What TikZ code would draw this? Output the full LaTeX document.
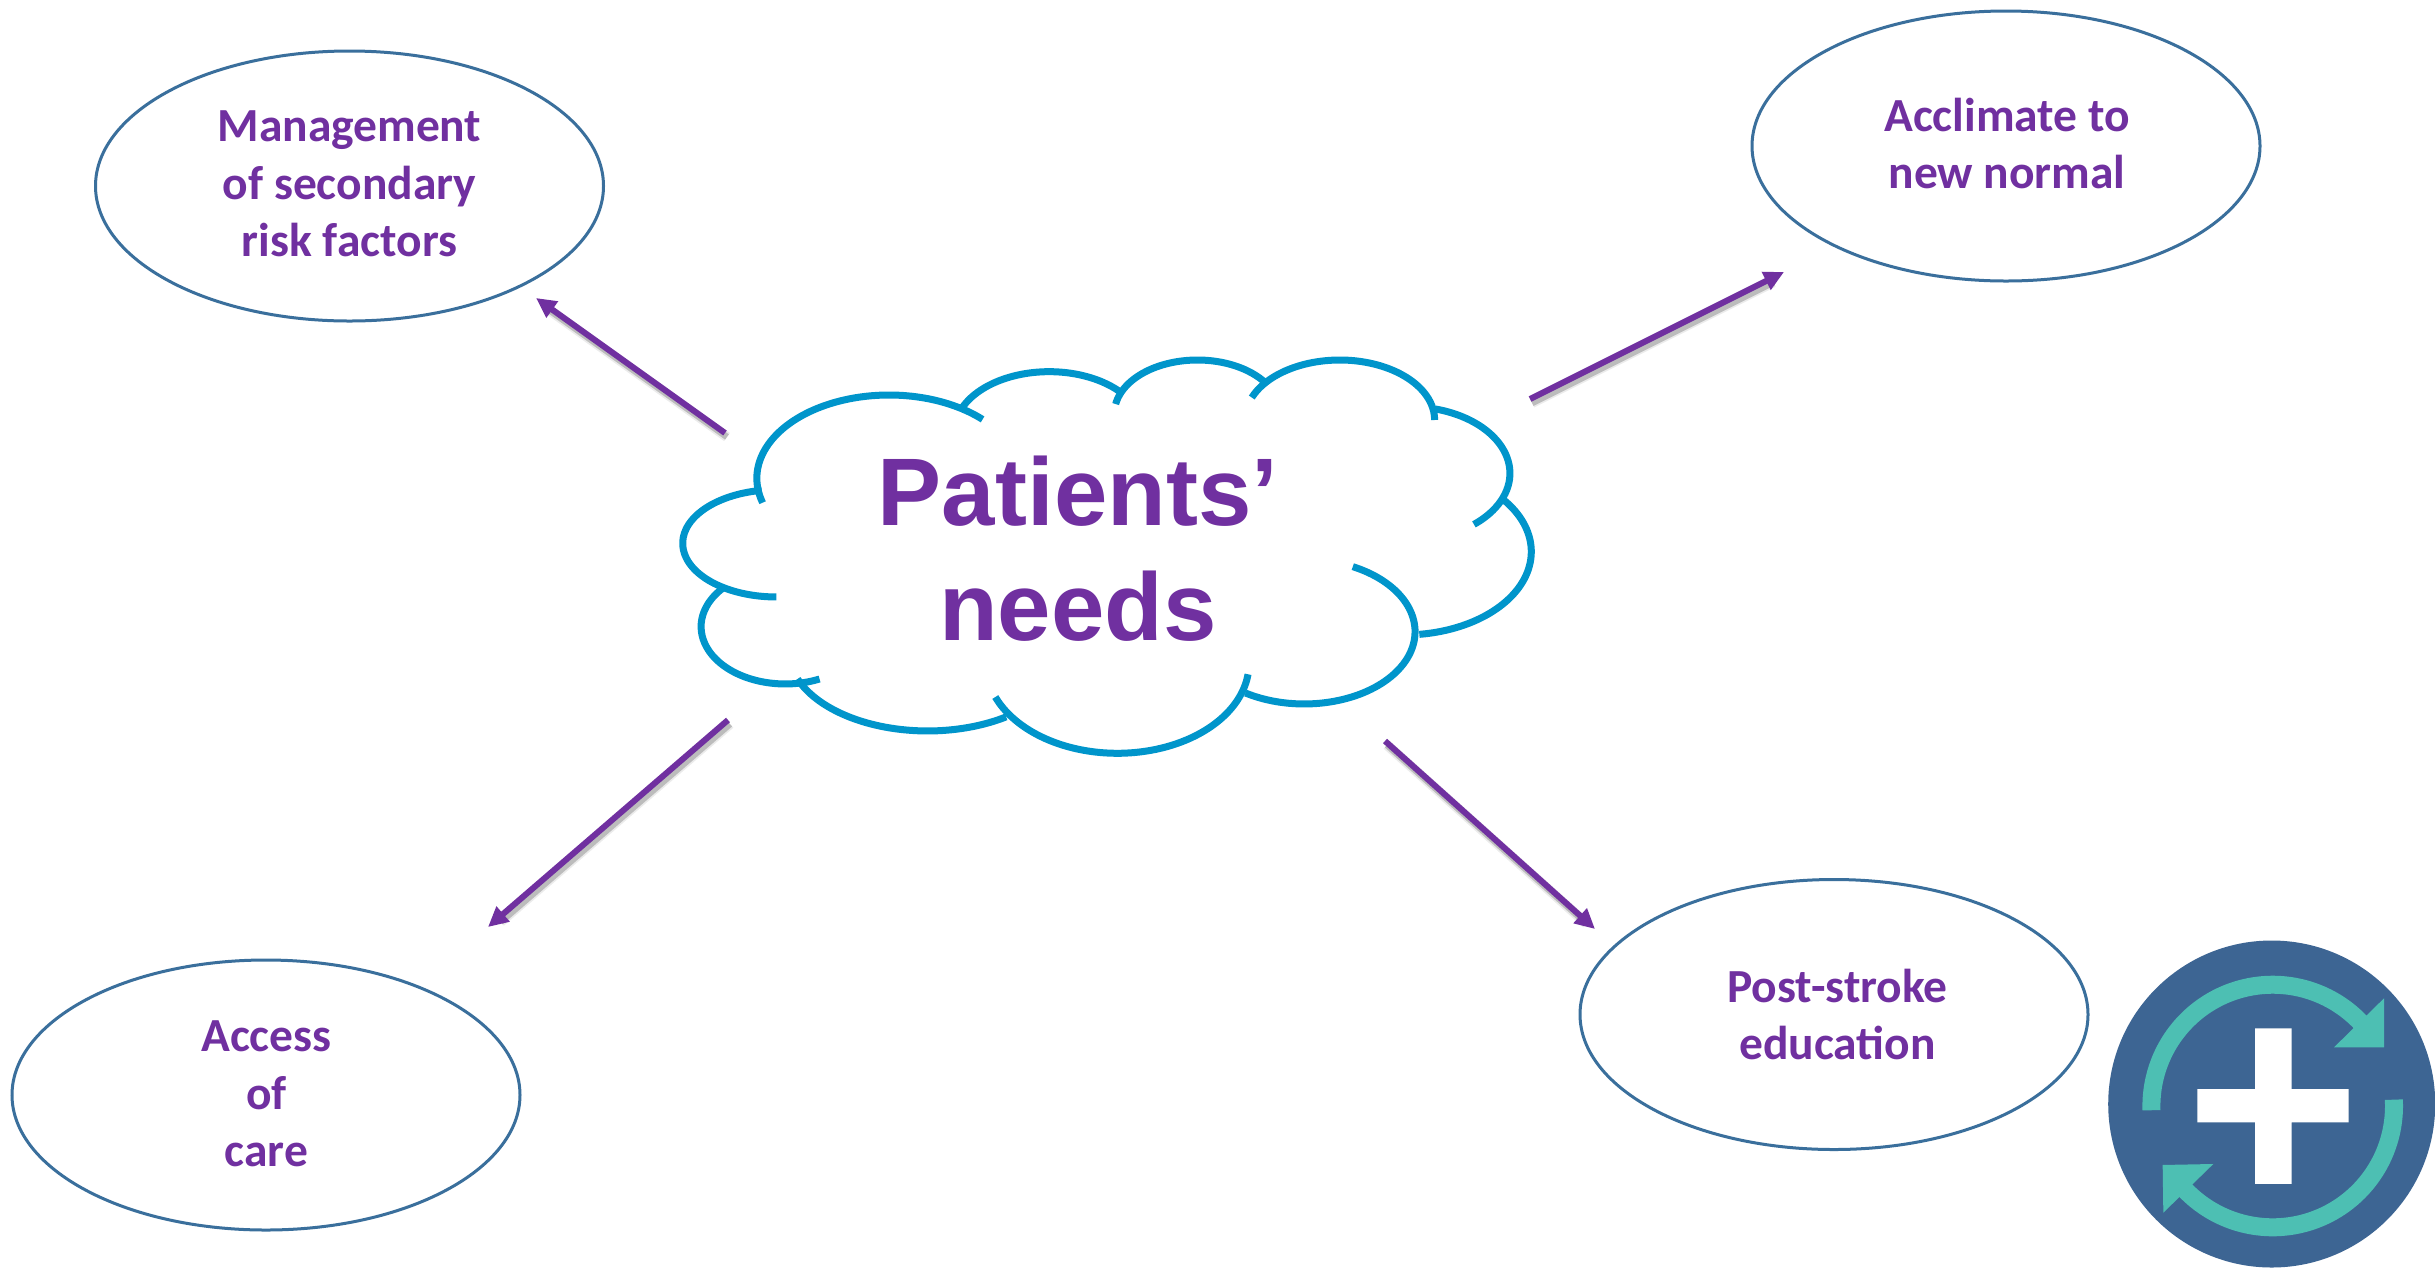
\documentclass[tikz,border=0pt]{standalone}
\usepackage{fontspec}
\setmainfont{Carlito}
\newfontfamily\titlefont{Liberation Sans}
\usetikzlibrary{arrows.meta,shapes.geometric}
\definecolor{needpurple}{HTML}{7030A0}
\definecolor{cloudblue}{HTML}{0095CB}
\definecolor{ringblue}{HTML}{3A6F9C}
\definecolor{logoblue}{HTML}{3D6593}
\definecolor{logoteal}{HTML}{4DBFB3}
\tikzset{
  need/.style={ellipse,draw=ringblue,line width=3pt,minimum width=508pt,minimum height=270pt,inner sep=0pt},
  needtext/.style={align=center,text=needpurple,inner sep=0pt,font=\fontsize{47.5}{57.5}\selectfont\bfseries},
  title/.style={align=center,text=needpurple,inner sep=0pt,font=\titlefont\fontsize{96}{115}\selectfont\bfseries},
  lobe/.style={draw=cloudblue,line width=7pt,samples=40,smooth},
  pointer/.style={draw=needpurple,line width=6pt,-{Triangle[length=20pt,width=19pt]}},
  shadewide/.style={draw=black,line width=10pt,opacity=0.08,shorten >=14pt},
  shadenarrow/.style={draw=black,line width=6.5pt,opacity=0.2,shorten >=14pt},
  tealarc/.style={draw=logoteal,line width=18pt,samples=50,smooth}
}
\newcommand{\cloudlobe}[6]{\draw[lobe,domain=#5:#6] plot ({#1+#3*cos(\x)},{#2-#4*sin(\x)});}
\begin{document}
\begin{tikzpicture}[x=1pt,y=-1pt]
\useasboundingbox (0,0) rectangle (2435,1270);
\fill[white] (0,0) rectangle (2435,1270);

% ellipses
\node[need] (risk) at (349.5,186) {};
\node[need] (normal) at (2006,146) {};
\node[need] (access) at (266,1095) {};
\node[need] (education) at (1834,1014.5) {};
\node[needtext] (risktext) at (349.5,184) {Management\\of secondary\\risk factors};
\node[needtext] (normaltext) at (2007,143.5) {Acclimate to\\new normal};
\node[needtext] (accesstext) at (266.5,1094) {Access\\of\\care};
\node[needtext] (educationtext) at (1837.5,1014.5) {Post-stroke\\education};

% cloud
\begin{scope}[x=0.593pt,y=-0.3333pt,shift={(640pt,-330pt)}]
\cloudlobe{420}{445}{223}{250}{197}{45}
\cloudlobe{690}{305}{160}{180}{157}{40}
\cloudlobe{940}{250}{140}{160}{170}{35}
\cloudlobe{1180}{270}{160}{180}{158}{0}
\cloudlobe{1297}{430}{170}{200}{75}{-50}
\cloudlobe{1288}{665}{215}{250}{38.6}{-83}
\cloudlobe{1120}{905}{187}{217}{64}{-122}
\cloudlobe{805}{1000}{222}{270}{-7}{-158}
\cloudlobe{485}{960}{235}{243}{-55.7}{-159}
\cloudlobe{245}{890}{142}{172}{-66}{-224}
\cloudlobe{230}{640}{158}{161}{-90}{-261}
\end{scope}
\node[title] (needs) at (1078,549) {Patients’\\needs};

% connectors
\coordinate (a1) at (725,433); \coordinate (b1) at (536,298);
\coordinate (a2) at (1530,399); \coordinate (b2) at (1784,272);
\coordinate (a3) at (728,720); \coordinate (b3) at (488,927);
\coordinate (a4) at (1385,741); \coordinate (b4) at (1595,929);
\foreach \a/\b in {a1/b1,a2/b2,a3/b3,a4/b4}{
  \draw[shadewide] ([xshift=2pt,yshift=-4pt]\a) -- ([xshift=2pt,yshift=-4pt]\b);
  \draw[shadenarrow] ([xshift=2pt,yshift=-4pt]\a) -- ([xshift=2pt,yshift=-4pt]\b);
  \draw[pointer] (\a) -- (\b);
}

% logo
\fill[logoblue] (2271.7,1104) circle[radius=163.5pt];
\draw[tealarc,domain=182:40] plot ({2272.7+121.3*cos(\x)},{1106-121.3*sin(\x)});
\draw[tealarc,domain=3:-139] plot ({2272.7+121.3*cos(\x)},{1106-121.3*sin(\x)});
\begin{scope}[x=0.3333pt,y=-0.3333pt,shift={(2080pt,-920pt)}]
\fill[logoteal] (912,235) -- (912,382) -- (762,382) -- cycle;
\fill[logoteal] (248,735) -- (400,732) -- (250,878) -- cycle;
\fill[white] (525,325) -- (635,325) -- (635,507) -- (806,507) -- (806,607) -- (635,607) -- (635,792) -- (525,792) -- (525,607) -- (352,607) -- (352,507) -- (525,507) -- cycle;
\end{scope}
\end{tikzpicture}
\end{document}
